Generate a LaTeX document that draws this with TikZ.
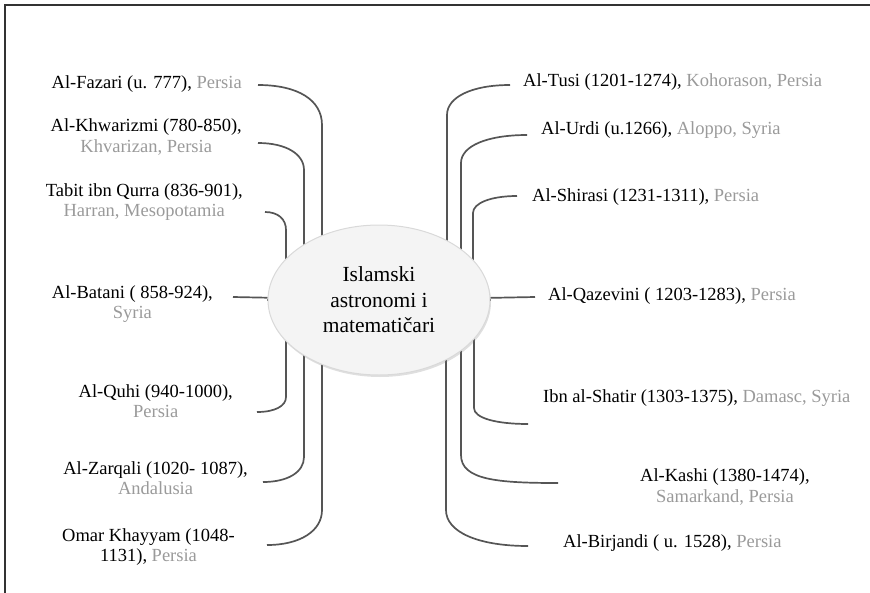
\documentclass[tikz,border=0pt]{standalone}
\usepackage{fontspec}
\setmainfont{Liberation Serif}
\usetikzlibrary{shapes.geometric, shadows, backgrounds}

\definecolor{placegray}{HTML}{9A9A9A}
\definecolor{linkgray}{HTML}{555555}
\definecolor{framegray}{HTML}{333333}
\newcommand{\mjesto}[1]{\textcolor{placegray}{#1}}

\begin{document}
\begin{tikzpicture}[x=1pt, y=-1pt]

    % Define the styles
    \tikzset{
        astro/.style={font=\fontsize{18.5}{20.5}\selectfont, align=center, inner sep=0pt, text=black},
        link/.style={draw=linkgray, line width=1.7pt},
        hub/.style={ellipse, draw=gray!30, line width=1pt, fill=gray!9, minimum width=222pt, minimum height=150pt,
            align=center, font=\fontsize{21.5}{25.5}\selectfont,
            drop shadow={shadow xshift=1pt, shadow yshift=-2pt, opacity=0.25}},
        frame/.style={draw=framegray, line width=2pt}
    }

    \useasboundingbox (0,0) rectangle (870,592);
    \draw[frame] (5,600) -- (5,5) -- (880,5);

    % Center
    \node[hub] (hub) at (379,300) {Islamski\\astronomi i\\matemati\v{c}ari};

    % Left side
    \node[astro, anchor=east] (fazari) at (242,84) {Al-Fazari (u. 777), \mjesto{Persia}};
    \node[astro, anchor=east] (khwarizmi) at (242,137) {Al-Khwarizmi (780-850),\\\mjesto{Khvarizan, Persia}};
    \node[astro, anchor=east] (tabit) at (243,202) {Tabit ibn Qurra (836-901),\\\mjesto{Harran, Mesopotamia}};
    \node[astro, anchor=east] (batani) at (213,304) {Al-Batani ( 858-924),\\\mjesto{Syria}};
    \node[astro, anchor=east] (quhi) at (233,401) {Al-Quhi (940-1000),\\\mjesto{Persia}};
    \node[astro, anchor=east] (zarqali) at (248,478) {Al-Zarqali (1020- 1087),\\\mjesto{Andalusia}};
    \node[astro, anchor=east] (omar) at (235,547) {Omar Khayyam (1048-\\1131), \mjesto{Persia}};

    % Right side
    \node[astro, anchor=west] (tusi) at (523,82) {Al-Tusi (1201-1274), \mjesto{Kohorason, Persia}};
    \node[astro, anchor=west] (urdi) at (541,130) {Al-Urdi (u.1266), \mjesto{Aloppo, Syria}};
    \node[astro, anchor=west] (shirasi) at (532,197) {Al-Shirasi (1231-1311), \mjesto{Persia}};
    \node[astro, anchor=west] (qazevini) at (548,296) {Al-Qazevini ( 1203-1283), \mjesto{Persia}};
    \node[astro, anchor=west] (shatir) at (543,398) {Ibn al-Shatir (1303-1375), \mjesto{Damasc, Syria}};
    \node[astro, anchor=west] (kashi) at (640,487) {Al-Kashi (1380-1474),\\\mjesto{Samarkand, Persia}};
    \node[astro, anchor=west] (birjandi) at (563,543) {Al-Birjandi ( u. 1528), \mjesto{Persia}};

    % Connectors
    \begin{pgfonlayer}{background}
    \draw[link] ([xshift=16pt,yshift=-1pt]fazari.east) .. controls +(40,0) and +(0,-25) .. ++(64,40) |- (hub);
    \draw[link] ([xshift=16pt,yshift=-6pt]khwarizmi.east) .. controls +(28,0) and +(0,-16) .. ++(46,27) |- (hub);
    \draw[link] ([xshift=22pt,yshift=-10pt]tabit.east) .. controls +(13,0) and +(0,-11) .. ++(21,18) |- (hub);
    \draw[link] ([xshift=20pt,yshift=7pt]batani.east) -- (hub);
    \draw[link] ([xshift=24pt,yshift=-11pt]quhi.east) .. controls +(18,0) and +(0,9) .. ++(29,-15) |- (hub);
    \draw[link] ([xshift=15pt,yshift=-4pt]zarqali.east) .. controls +(25,0) and +(0,15) .. ++(41,-25) |- (hub);
    \draw[link] ([xshift=32pt,yshift=2pt]omar.east) .. controls +(33,0) and +(0,21) .. ++(55,-35) |- (hub);

    \draw[link] ([xshift=-13pt,yshift=-3pt]tusi.west) .. controls +(-38,0) and +(0,-18) .. ++(-63,30) |- (hub);
    \draw[link] ([xshift=-14pt,yshift=-5pt]urdi.west) .. controls +(-40,0) and +(0,-17) .. ++(-66,28) |- (hub);
    \draw[link] ([xshift=-15pt,yshift=1pt]shirasi.west) .. controls +(-26,0) and +(0,-10) .. ++(-44,17) |- (hub);
    \draw[link] ([xshift=-13pt,yshift=-1pt]qazevini.west) -- (hub);
    \draw[link] ([xshift=-15pt,yshift=-26pt]shatir.west) .. controls +(-32,0) and +(0,10) .. ++(-54,-16) |- (hub);
    \draw[link] ([xshift=-82pt,yshift=4pt]kashi.west) .. controls +(-60,0) and +(0,25) .. ++(-97,-28) |- (hub);
    \draw[link] ([xshift=-35pt,yshift=-3pt]birjandi.west) .. controls +(-50,0) and +(0,22) .. ++(-82,-36) |- (hub);
    \end{pgfonlayer}

\end{tikzpicture}
\end{document}
